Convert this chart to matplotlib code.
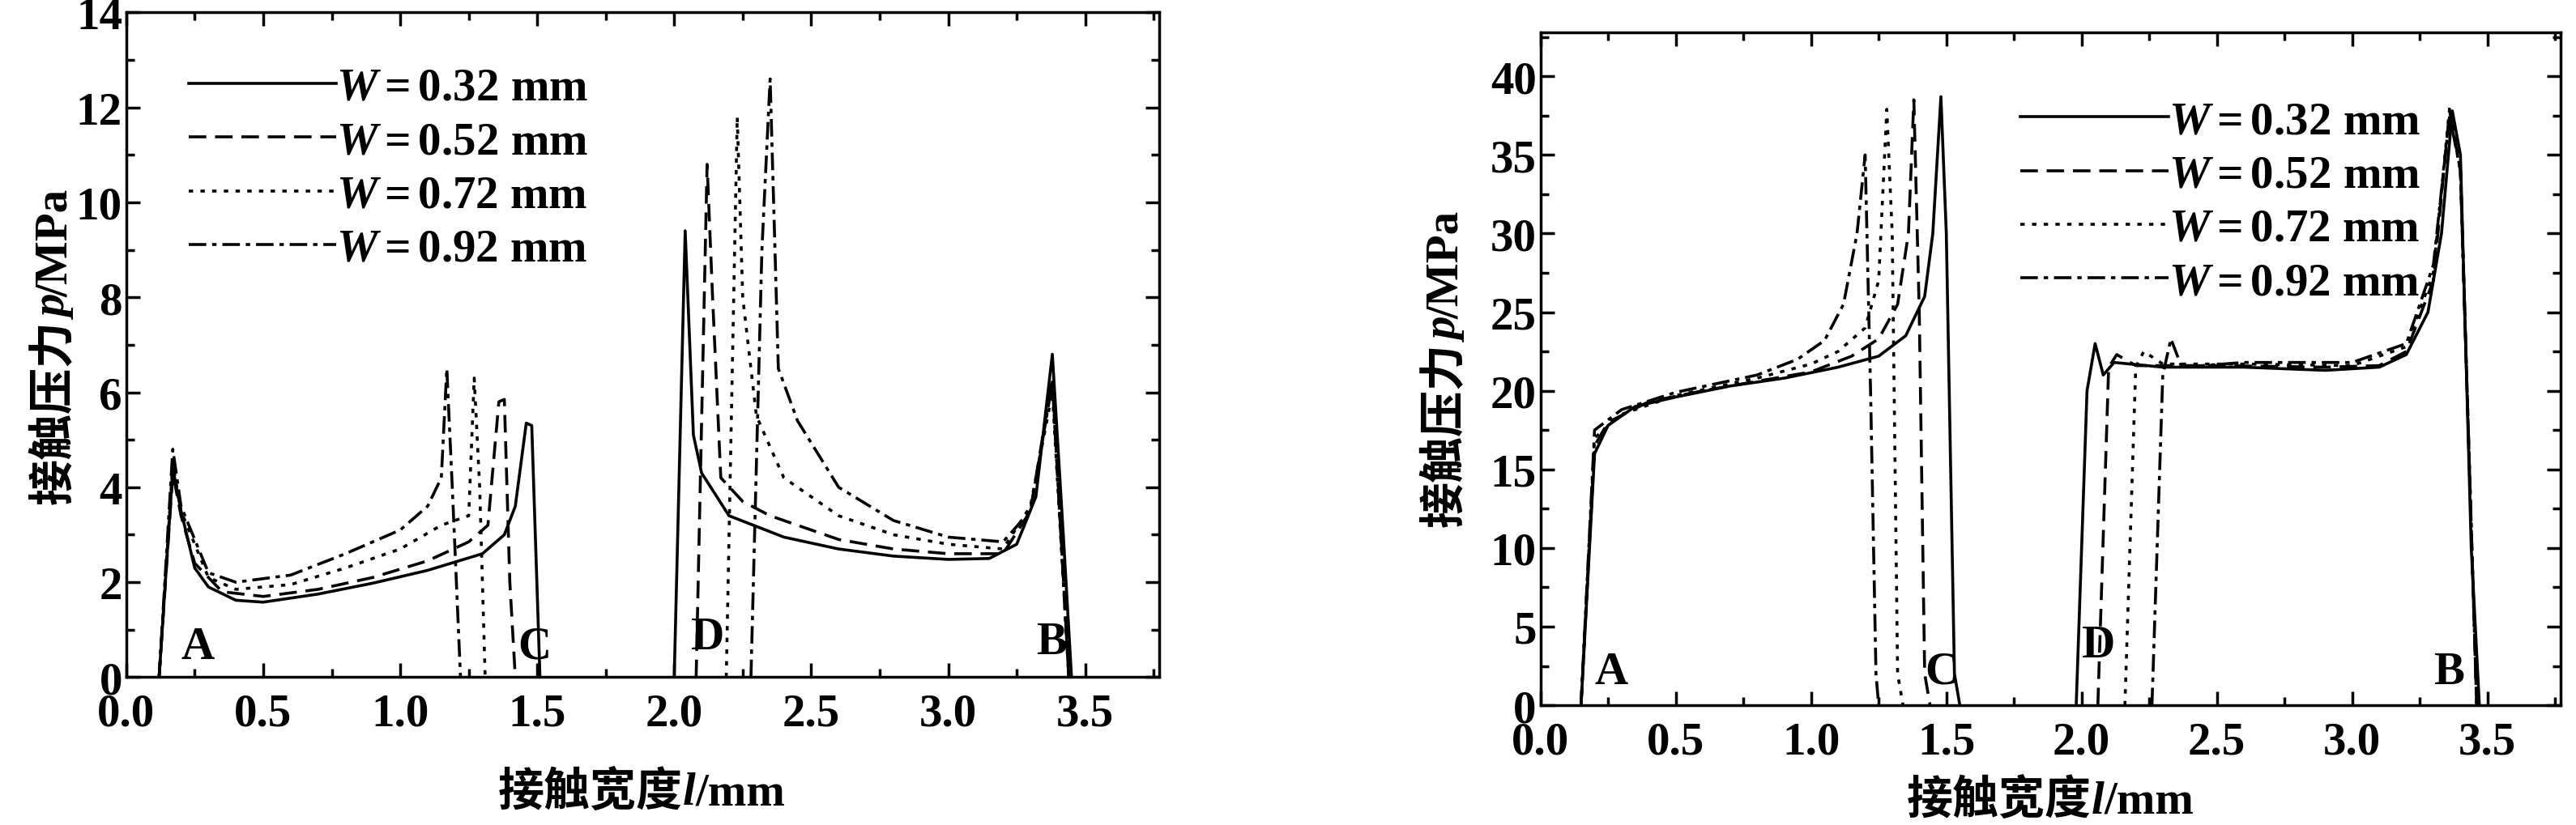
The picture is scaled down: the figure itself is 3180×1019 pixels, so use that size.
import numpy as np
import matplotlib
matplotlib.use("Agg")
import matplotlib.pyplot as plt
from matplotlib.ticker import MultipleLocator

plt.rcParams.update({
    "font.family": "Liberation Serif",
    "font.weight": "bold",
    "mathtext.fontset": "custom",
    "mathtext.it": "Liberation Serif:italic:bold",
    "mathtext.bf": "Liberation Serif:bold",
    "mathtext.rm": "Liberation Serif:bold",
})

N = np.nan
labels = [r"$\mathit{W}\mathbf{=0.32\ mm}$", r"$\mathit{W}\mathbf{=0.52\ mm}$",
          r"$\mathit{W}\mathbf{=0.72\ mm}$", r"$\mathit{W}\mathbf{=0.92\ mm}$"]
styles = ["-", (0, (6, 3)), (0, (1.5, 2.5)), (0, (6, 2, 1.5, 2))]
xticks = [0.0, 0.5, 1.0, 1.5, 2.0, 2.5, 3.0, 3.5]
xlabel_parts = ["接触宽度", "l", "/mm"]
ylabel_parts = ["接触压力", "p", "/MPa"]

# Left chart
L032_x = [0.12,0.17,0.2,0.25,0.3,0.4,0.5,0.7,0.9,1.1,1.3,1.38,1.42,1.46,1.48,1.51,N,2.0,2.04,2.07,2.1,2.2,2.4,2.6,2.8,3.0,3.15,3.25,3.32,3.38,3.42,3.45]
L032_y = [0,4.4,3.5,2.3,1.9,1.62,1.58,1.75,1.98,2.25,2.6,3.0,3.6,5.35,5.3,0,N,0,9.4,5.1,4.3,3.4,2.95,2.7,2.55,2.48,2.5,2.8,3.8,6.8,3.0,0]
L052_x = [0.12,0.17,0.2,0.25,0.35,0.5,0.7,0.9,1.1,1.25,1.32,1.36,1.38,1.4,1.42,N,2.08,2.12,2.14,2.17,2.25,2.35,2.6,2.8,3.0,3.2,3.3,3.38,3.44]
L052_y = [0,4.3,3.4,2.4,1.8,1.7,1.85,2.1,2.45,2.85,3.2,5.8,5.85,2.0,0,N,0,10.8,8.0,4.2,3.7,3.4,2.9,2.7,2.6,2.6,3.5,6.3,0]
L072_x = [0.12,0.17,0.2,0.3,0.4,0.6,0.8,1.0,1.15,1.25,1.27,1.29,1.31,N,2.19,2.23,2.25,2.3,2.4,2.6,2.8,3.0,3.2,3.3,3.38,3.44]
L072_y = [0,4.5,3.5,2.1,1.85,1.95,2.3,2.7,3.2,3.4,6.3,4.0,0,N,0,11.8,8.0,5.5,4.2,3.4,3.0,2.8,2.7,3.6,6.0,0]
L092_x = [0.12,0.17,0.2,0.3,0.4,0.6,0.8,1.0,1.1,1.15,1.17,1.19,1.22,N,2.28,2.32,2.35,2.38,2.45,2.6,2.8,3.0,3.2,3.3,3.38,3.44]
L092_y = [0,4.8,3.6,2.2,2.0,2.15,2.6,3.1,3.6,4.2,6.5,4.0,0,N,0,9.0,12.6,6.5,5.4,4.0,3.3,2.95,2.85,3.5,6.2,0]

# Right chart
R032_x = [0.15,0.2,0.25,0.35,0.5,0.7,0.9,1.1,1.25,1.35,1.42,1.45,1.48,1.5,1.53,1.55,N,1.98,2.02,2.05,2.08,2.12,2.3,2.6,2.9,3.1,3.2,3.28,3.33,3.37,3.4,3.44,3.47]
R032_y = [0,16,17.8,19,19.6,20.3,20.8,21.5,22.2,23.5,26,30,38.7,30,2,0,N,0,20,23,21,21.8,21.5,21.5,21.3,21.5,22.3,25,30,37.8,35,10,0]
R052_x = [0.15,0.2,0.25,0.4,0.6,0.8,1.0,1.15,1.25,1.32,1.36,1.38,1.4,1.42,1.44,N,2.06,2.1,2.13,2.2,2.5,2.9,3.1,3.2,3.3,3.36,3.4,3.46]
R052_y = [0,16.5,18,19.3,20,20.6,21.2,22.2,23.3,25.5,30,38.5,25,2,0,N,0,21.5,22.3,21.6,21.6,21.5,21.6,22.5,27,37.8,34,0]
R072_x = [0.15,0.2,0.3,0.5,0.8,1.0,1.1,1.2,1.25,1.28,1.3,1.32,1.34,N,2.16,2.2,2.23,2.3,2.6,3.0,3.2,3.3,3.36,3.4,3.46]
R072_y = [0,17,18.5,19.7,20.8,21.7,22.5,24,27,37.9,30,2,0,N,0,21.5,22.5,21.7,21.7,21.6,22.8,27.5,38,34,0]
R092_x = [0.15,0.2,0.3,0.5,0.8,0.95,1.05,1.12,1.17,1.2,1.22,1.24,1.25,N,2.26,2.3,2.33,2.37,2.6,3.0,3.2,3.3,3.36,3.4,3.46]
R092_y = [0,17.5,18.8,19.9,21,22,23.2,25.5,30,35,20,2,0,N,0,21,23.3,21.5,21.8,21.8,23,28,37.5,34,0]

left = [(L032_x, L032_y), (L052_x, L052_y), (L072_x, L072_y), (L092_x, L092_y)]
right = [(R032_x, R032_y), (R052_x, R052_y), (R072_x, R072_y), (R092_x, R092_y)]

fig = plt.figure(figsize=(31.8, 10.2), dpi=100)
axL = fig.add_axes([0.049, 0.179, 0.401, 0.805])
axR = fig.add_axes([0.598, 0.145, 0.396, 0.815])

FS = 41
def style(ax, ymax, yticks, ymin):
    ax.set_xlim(0, 3.77)
    ax.set_ylim(0, ymax)
    ax.set_xticks(xticks)
    ax.set_xticklabels([f"{v:.1f}" for v in xticks], fontweight="bold")
    ax.set_yticks(yticks)
    ax.set_yticklabels([f"{v:g}" for v in yticks], fontweight="bold")
    ax.xaxis.set_minor_locator(MultipleLocator(0.25))
    ax.yaxis.set_minor_locator(MultipleLocator(ymin))
    ax.tick_params(which="both", direction="in", top=True, right=True, labelsize=FS, width=2.5)
    ax.tick_params(which="major", length=12)
    ax.tick_params(which="minor", length=7)
    ax.tick_params(axis="x", pad=14)
    for s in ax.spines.values():
        s.set_linewidth(2.5)

for ax, data in ((axL, left), (axR, right)):
    for (x, y), ls, lab in zip(data, styles, labels):
        ax.plot(x, y, color="black", lw=2.6, ls=ls, label=lab)

style(axL, 14, [0, 2, 4, 6, 8, 10, 12, 14], 1)
style(axR, 42.8, [0, 5, 10, 15, 20, 25, 30, 35, 40], 2.5)

for ax, pts in ((axL, [("A", 0.2, 0.2), ("C", 1.43, 0.2), ("D", 2.06, 0.4), ("B", 3.32, 0.3)]),
                (axR, [("A", 0.2, 0.8), ("C", 1.42, 0.8), ("D", 2.0, 2.5), ("B", 3.3, 0.8)])):
    for t, x, y in pts:
        ax.text(x, y, t, fontsize=FS, fontweight="bold", ha="left", va="bottom")

axL.legend(loc="upper left", bbox_to_anchor=(0.02, 0.98), frameon=False, fontsize=FS,
           handlelength=3.2, handletextpad=0, labelspacing=0.25)
axR.legend(loc="upper left", bbox_to_anchor=(0.43, 0.96), frameon=False, fontsize=FS,
           handlelength=3.2, handletextpad=0, labelspacing=0.25)

fonts = [dict(family="Noto Sans CJK SC", weight="bold", style="normal"),
         dict(family="Liberation Serif", weight="bold", style="italic"),
         dict(family="Liberation Serif", weight="bold", style="normal")]

fig.canvas.draw()
renderer = fig.canvas.get_renderer()
W, H = fig.get_size_inches() * fig.dpi

def compound(parts, cx, cy, vertical):
    texts = []
    for p, f in zip(parts, fonts):
        t = fig.text(0, 0, p, fontsize=FS, fontfamily=f["family"], fontweight=f["weight"],
                     fontstyle=f["style"], rotation=90 if vertical else 0,
                     rotation_mode="anchor", ha="left", va="baseline")
        texts.append(t)
    sizes = []
    for t in texts:
        bb = t.get_window_extent(renderer)
        sizes.append(bb.height if vertical else bb.width)
    total = sum(sizes)
    pos = (cy * H if vertical else cx * W) - total / 2
    for t, s in zip(texts, sizes):
        if vertical:
            t.set_position((cx, pos / H))
        else:
            t.set_position((pos / W, cy))
        pos += s

compound(xlabel_parts, 0.249, 0.025, False)
compound(xlabel_parts, 0.796, 0.015, False)
compound(ylabel_parts, 0.026, 0.58, True)
compound(ylabel_parts, 0.566, 0.553, True)

fig.savefig("out.png", dpi=100)
